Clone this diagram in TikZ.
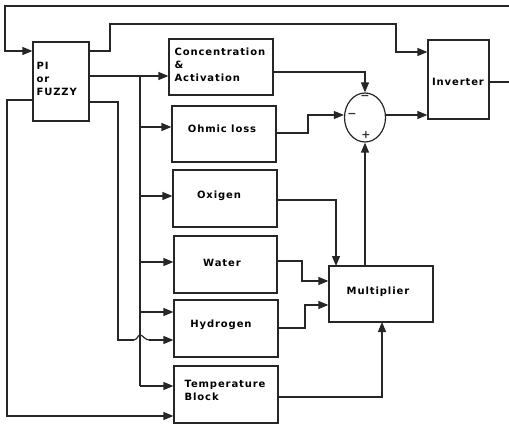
\documentclass[tikz,border=0pt]{standalone}
\usepackage{fontspec}
\newfontfamily\lblfont{DejaVu Sans}[LetterSpace=9]
\newfontfamily\sgnfont{DejaVu Sans}
\usetikzlibrary{arrows.meta,shapes.geometric}
\begin{document}
\begin{tikzpicture}[x=1pt,y=-1pt,
  line width=1.2pt,
  color=black!85,
  blk/.style={draw,line width=1.2pt,rectangle,inner sep=0pt},
  lbl/.style={font=\lblfont\bfseries\fontsize{10pt}{13pt}\selectfont,inner sep=0pt,text=black},
  sgn/.style={font=\sgnfont\bfseries\fontsize{11pt}{11pt}\selectfont,inner sep=0pt,text=black!80},
  arr/.style={-{Triangle[length=10pt,width=8pt]}},
]
\useasboundingbox (0,0) rectangle (509,425);
% blocks
\node[blk,minimum width=56pt,minimum height=79pt] (pi) at (61,81.5) {};
\node[blk,minimum width=61pt,minimum height=79pt] (inv) at (458.5,79.5) {};
\node[blk,minimum width=104pt,minimum height=56pt] (conc) at (221,67) {};
\node[blk,minimum width=104pt,minimum height=56pt] (ohm) at (224,134) {};
\node[blk,minimum width=104pt,minimum height=57pt] (oxi) at (225,198.5) {};
\node[blk,minimum width=103pt,minimum height=57pt] (wat) at (225.5,264.5) {};
\node[blk,minimum width=104pt,minimum height=57pt] (hyd) at (226,328.5) {};
\node[blk,minimum width=104pt,minimum height=57pt] (tmp) at (226,394.5) {};
\node[blk,minimum width=104pt,minimum height=56pt] (mul) at (381,294) {};
\node[draw,line width=1.2pt,ellipse,minimum width=41pt,minimum height=49pt,inner sep=0pt] (sum) at (365,117.5) {};
% labels
\node[lbl,anchor=west,align=left] (tpi) at (36,78.5) {PI\\or\\FUZZY};
\node[lbl,anchor=west,align=left] (tconc) at (174,65) {Concentration\\\&\\Activation};
\node[lbl] (tohm) at (222,129) {Ohmic loss};
\node[lbl] (toxi) at (219,196) {Oxigen};
\node[lbl] (twat) at (222,263) {Water};
\node[lbl] (thyd) at (221,325) {Hydrogen};
\node[lbl,anchor=west,align=left] (ttmp) at (184,390) {Temperature\\Block};
\node[lbl] (tmul) at (378,292) {Multiplier};
\node[lbl] (tinv) at (458,82) {Inverter};
\node[sgn] (sm1) at (365,97.5) {−};
\node[sgn] (sm2) at (352,115) {−};
\node[sgn] (sp) at (366,135.5) {+};
% helper coordinates
\coordinate (fbR) at (509,6);
\coordinate (outR) at (509,82);
\coordinate (y51) at (0,51);
\coordinate (y52) at (0,52);
\coordinate (y76) at (0,76);
\coordinate (y100) at (0,100);
\coordinate (y102) at (0,102);
\coordinate (y127) at (0,127);
\coordinate (y196) at (0,196);
\coordinate (y262) at (0,262);
\coordinate (y312) at (0,312);
\coordinate (y340) at (0,340);
\coordinate (y386) at (0,386);
\coordinate (y416) at (0,416);
\coordinate (y72) at (0,72);
\coordinate (y133) at (0,133);
\coordinate (y115) at (0,115);
\coordinate (y200) at (0,200);
\coordinate (y261) at (0,261);
\coordinate (y281) at (0,281);
\coordinate (y328) at (0,328);
\coordinate (y305) at (0,305);
\coordinate (y397) at (0,397);
\coordinate (bus) at (140,76);
\coordinate (busEnd) at (140,386);
\coordinate (hopA) at (134,340);
\coordinate (hopB) at (149,340);
% connectors
\draw[arr] (fbR) -- (5,6) -- (5,51) -- (pi.west |- y51);
\draw[arr] (pi.east |- y51) -- (110,51) -- (110,24) -- (396,24) -- (396,52) -- (inv.west |- y52);
\draw (inv.east |- outR) -- (outR);
\draw[arr] (pi.east |- y76) -- (conc.west |- y76);
\draw (bus) -- (busEnd);
\draw[arr] (bus |- y127) -- (ohm.west |- y127);
\draw[arr] (bus |- y196) -- (oxi.west |- y196);
\draw[arr] (bus |- y262) -- (wat.west |- y262);
\draw[arr] (bus |- y312) -- (hyd.west |- y312);
\draw[arr] (busEnd) -- (tmp.west |- y386);
\draw (pi.east |- y102) -- (118,102) -- (118,340) -- (hopA);
\draw (hopA) .. controls (137,340) and (138,335) .. (140,335)
   .. controls (143,335) and (145,340) .. (hopB);
\draw[arr] (hopB) -- (hyd.west |- y340);
\draw[arr] (pi.west |- y100) -- (7,100) -- (7,416) -- (tmp.west |- y416);
\draw[arr] (conc.east |- y72) -- (365,72) -- (sum.north);
\draw[arr] (ohm.east |- y133) -- (308,133) -- (308,115) -- (sum.west |- y115);
\draw[arr] (sum.east |- y115) -- (inv.west |- y115);
\draw[arr] (sum.south |- mul.north) -- (sum.south);
\draw[arr] (oxi.east |- y200) -- (336,200) -- (336,266);
\draw[arr] (wat.east |- y261) -- (302,261) -- (302,281) -- (mul.west |- y281);
\draw[arr] (hyd.east |- y328) -- (305,328) -- (305,305) -- (mul.west |- y305);
\draw[arr] (tmp.east |- y397) -- (382,397) -- (382,322);
\end{tikzpicture}
\end{document}
